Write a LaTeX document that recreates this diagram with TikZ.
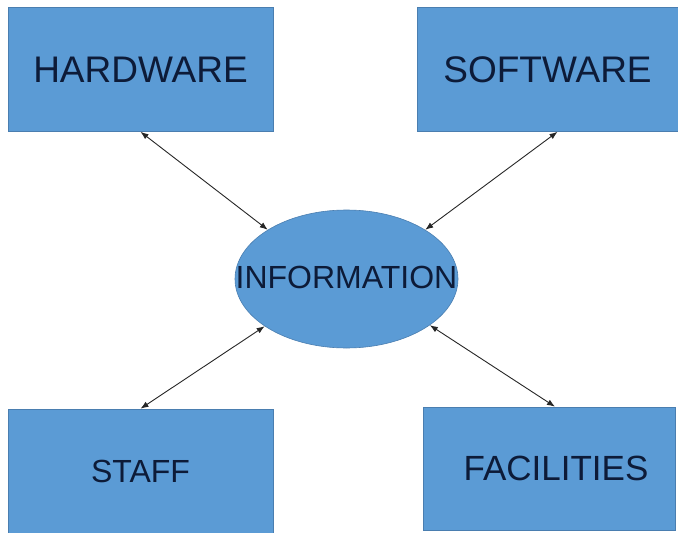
\documentclass[tikz,border=0pt]{standalone}
\usepackage{fontspec}
\setmainfont{Liberation Sans}
\usetikzlibrary{shapes.geometric}
\usetikzlibrary{arrows.meta}
\definecolor{boxblue}{HTML}{5B9BD5}
\definecolor{boxedge}{HTML}{4A7EB0}
\definecolor{inkblue}{HTML}{0D1B38}

\begin{document}
\begin{tikzpicture}[x=1pt,y=-1pt]
% font sizes of the labels
\def\bigsz{\fontsize{37pt}{40pt}\selectfont}
\def\midsz{\fontsize{32pt}{36pt}\selectfont}
% node style definition
\tikzstyle{block} = [
	draw=boxedge, fill=boxblue, rectangle, line width=0.6pt,
	text=inkblue, inner sep=0pt ];
\tikzstyle{blob} = [
	draw=boxedge, fill=boxblue, ellipse, line width=0.6pt,
	minimum width=223pt, minimum height=138pt, inner sep=0pt ];
\tikzstyle{link} = [
	draw=black!85, line width=0.9pt,
	{Latex[length=8pt,width=6pt]}-{Latex[length=8pt,width=6pt]} ];
\useasboundingbox (0,0) rectangle (678,533);

% the four boxes round the centre
\node[block, minimum width=265pt, minimum height=124pt, font=\bigsz] (hw) at (140.5,69.5) { HARDWARE };
\node[block, minimum width=261pt, minimum height=124pt, font=\bigsz] (sw) at (547.5,69.5) { SOFTWARE };
\node[block, minimum width=265pt, minimum height=124pt, font=\midsz] (staff) at (140.5,471) { STAFF };
\node[block, minimum width=252pt, minimum height=123pt, font=\fontsize{35pt}{38pt}\selectfont] (fac) at (549,468.5) { \hspace*{14pt}FACILITIES };

% centre ellipse, the text is wider than the shape
\node[blob] (info) at (346.5,279) {};
\node[text=inkblue, font=\midsz, inner sep=0pt] (infotext) at (346.5,277) { INFORMATION };

% double headed links
\draw[link] (hw.south) -- (info.148);
\draw[link] ([xshift=10pt]sw.south) -- (info.32);
\draw[link] (staff.north) -- (info.210);
\draw[link] ([xshift=6pt]fac.north) -- (info.331);

\end{tikzpicture}
\end{document}
